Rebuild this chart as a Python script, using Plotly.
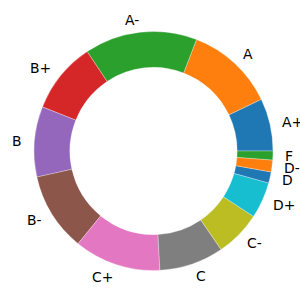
import math
import plotly.graph_objects as go

grades = ["A+", "A", "A-", "B+", "B", "B-", "C+", "C", "C-", "D+", "D", "D-", "F"]
counts = [71, 120, 152, 96, 95, 106, 117, 87, 62, 49, 15, 16, 12]
colors = ["#1f77b4", "#ff7f0e", "#2ca02c", "#d62728", "#9467bd", "#8c564b",
          "#e377c2", "#7f7f7f", "#bcbd22", "#17becf", "#1f77b4", "#ff7f0e", "#2ca02c"]

W, H = 300, 300
ml, mr, mt, mb = 33.5, 26.5, 31, 29
pw, ph = W - ml - mr, H - mt - mb

total = sum(counts)
# plotly places the first counterclockwise slice ending at `rotation`
rot = 90 - counts[0] / total * 360

fig = go.Figure(go.Pie(
    labels=grades, values=counts, sort=False, direction="counterclockwise",
    rotation=rot, hole=0.7, textinfo="none", hoverinfo="label+value",
    marker=dict(colors=colors, line=dict(color="white", width=0.3)),
    showlegend=False,
))

cum = 0
annotations = []
for g, v in zip(grades, counts):
    mid = (cum + v / 2) / total * 2 * math.pi
    cum += v
    dx = 1.1 * math.cos(mid)
    dy = 1.1 * math.sin(mid)
    annotations.append(dict(
        x=0.5 + dx * (pw / 2) / pw, y=0.5 + dy * (ph / 2) / ph,
        xref="paper", yref="paper", text=g, showarrow=False,
        xanchor="left" if dx > 0 else "right", yanchor="middle",
        borderpad=0, borderwidth=0,
        font=dict(family="DejaVu Sans", size=13.9, color="black"),
    ))

fig.update_layout(
    width=W, height=H, margin=dict(l=ml, r=mr, t=mt, b=mb),
    paper_bgcolor="white", plot_bgcolor="white",
    annotations=annotations,
)
fig.write_html("out.html")
